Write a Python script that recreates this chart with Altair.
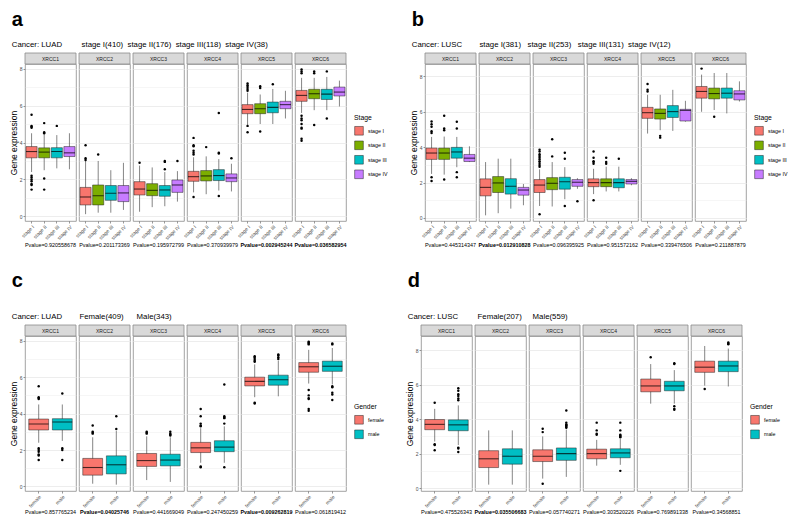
import altair as alt
import pandas as pd

GENES = ["XRCC1", "XRCC2", "XRCC3", "XRCC4", "XRCC5", "XRCC6"]
STAGES = ["stage I", "stage II", "stage III", "stage IV"]
GENDERS = ["female", "male"]
STAGE_COLORS = ["#F8766D", "#7CAE00", "#00BFC4", "#C77CFF"]
GENDER_COLORS = ["#F8766D", "#00BFC4"]

# box statistics per gene, per group: [lower whisker, Q1, median, Q3, upper whisker]
# outliers per gene, per group
A_BOX = [
    [[2.4, 3.17, 3.51, 3.78, 4.5], [2.5, 3.17, 3.48, 3.71, 4.45], [2.6, 3.17, 3.51, 3.72, 4.4], [2.55, 3.24, 3.44, 3.78, 4.5]],
    [[0.12, 0.62, 1.05, 1.57, 3.0], [0.2, 0.62, 1.12, 1.70, 3.0], [0.2, 0.87, 1.25, 1.67, 2.5], [0.35, 0.80, 1.27, 1.67, 2.9]],
    [[0.25, 1.16, 1.48, 1.88, 2.75], [0.5, 1.12, 1.41, 1.77, 2.65], [0.55, 1.09, 1.43, 1.67, 2.4], [0.8, 1.30, 1.70, 1.97, 2.45]],
    [[1.3, 1.90, 2.15, 2.44, 3.2], [1.2, 1.92, 2.19, 2.48, 3.25], [1.4, 1.94, 2.21, 2.53, 3.1], [1.35, 1.88, 2.08, 2.30, 2.85]],
    [[4.95, 5.56, 5.79, 6.05, 6.7], [5.0, 5.56, 5.83, 6.10, 6.6], [5.0, 5.61, 5.90, 6.19, 6.9], [5.3, 5.83, 6.05, 6.23, 6.8]],
    [[5.6, 6.23, 6.55, 6.82, 7.5], [5.75, 6.37, 6.64, 6.88, 7.5], [5.75, 6.33, 6.62, 6.88, 7.55], [5.95, 6.52, 6.73, 7.0, 7.35]],
]
A_OUT = [
    [[5.5, 4.9, 4.85, 4.8, 2.2, 2.1, 2.0, 1.9, 1.75, 1.7, 1.45], [5.05, 4.55, 4.5, 2.05, 1.45], [4.9], []],
    [[3.85, 3.15, 3.05], [3.35], [], []],
    [[2.9], [], [3.0, 2.95, 2.55], [3.0]],
    [[4.25, 3.85, 3.8, 3.55, 3.45, 3.35, 1.05], [3.75], [5.6, 3.45, 3.4, 1.1], [3.15]],
    [[7.2, 7.1, 7.0, 6.9, 6.8, 4.9, 4.55], [7.05, 6.95, 4.6], [7.15], []],
    [[7.95, 7.85, 7.75, 5.45, 5.3, 5.2, 5.0, 4.8, 4.75, 4.2, 4.1], [7.85, 7.75, 4.95], [7.85, 5.3], []],
]
B_BOX = [
    [[2.49, 3.31, 3.67, 3.95, 4.58], [2.45, 3.31, 3.67, 3.95, 4.6], [2.87, 3.38, 3.73, 3.99, 4.58], [3.16, 3.19, 3.38, 3.59, 4.05]],
    [[0.15, 1.25, 1.73, 2.21, 3.16], [0.27, 1.44, 1.98, 2.34, 3.35], [0.53, 1.35, 1.79, 2.22, 3.35], [0.72, 1.29, 1.58, 1.73, 1.92]],
    [[0.68, 1.44, 1.86, 2.17, 2.75], [0.65, 1.60, 1.96, 2.28, 3.16], [1.06, 1.63, 2.05, 2.30, 2.87], [1.65, 1.79, 2.02, 2.17, 2.25]],
    [[1.35, 1.77, 2.0, 2.21, 2.78], [1.5, 1.77, 2.0, 2.21, 2.9], [1.5, 1.71, 2.0, 2.21, 2.9], [1.85, 1.92, 2.07, 2.17, 2.25]],
    [[4.77, 5.63, 5.95, 6.25, 6.96], [4.96, 5.59, 5.91, 6.16, 6.96], [4.92, 5.68, 6.01, 6.35, 7.24], [5.44, 5.48, 6.08, 6.14, 6.62]],
    [[6.0, 6.77, 7.15, 7.43, 8.1], [6.1, 6.73, 7.03, 7.34, 8.19], [5.91, 6.77, 7.05, 7.34, 8.19], [6.58, 6.67, 7.01, 7.19, 7.72]],
]
B_OUT = [
    [[5.45, 5.3, 5.15, 4.9, 4.8, 2.3, 2.09], [5.78, 5.06, 4.96, 2.17], [5.44, 5.06, 2.59, 2.3], []],
    [[], [], [], []],
    [[3.85, 3.75, 3.6, 3.5, 3.4, 3.3, 3.2, 3.1, 3.0, 2.9, 0.21], [4.45, 3.48], [3.69, 3.35, 0.68], [0.95]],
    [[3.76, 3.4, 3.21, 3.16, 3.06, 1.0], [3.4, 3.16, 3.06], [3.35], []],
    [[7.57, 7.24, 7.15], [4.64, 4.54], [], []],
    [[8.44], [5.72], [], []],
]
C_BOX = [
    [[2.4, 3.10, 3.43, 3.70, 4.5], [2.5, 3.10, 3.54, 3.72, 4.5]],
    [[0.15, 0.62, 1.04, 1.54, 2.7], [0.1, 0.69, 1.19, 1.68, 3.05]],
    [[0.35, 1.10, 1.42, 1.81, 2.75], [0.25, 1.13, 1.45, 1.77, 2.7]],
    [[1.3, 1.86, 2.12, 2.42, 3.2], [1.3, 1.91, 2.16, 2.51, 3.3]],
    [[4.9, 5.52, 5.77, 6.0, 6.7], [4.95, 5.56, 5.86, 6.11, 6.9]],
    [[5.65, 6.27, 6.57, 6.8, 7.5], [5.6, 6.32, 6.6, 6.88, 7.6]],
]
C_OUT = [
    [[5.5, 4.9, 4.85, 4.8, 2.1, 2.0, 1.9, 1.75, 1.7, 1.45], [5.1, 2.1, 2.0, 1.45]],
    [[3.35, 3.0, 2.95, 2.9], [3.85, 3.15]],
    [[3.0, 2.95, 2.9], [3.0, 2.9, 2.85, 2.8]],
    [[4.25, 3.85, 3.45, 3.35, 3.3, 1.1, 1.05], [5.6, 3.85, 3.8, 3.75, 3.45, 1.05]],
    [[7.15, 7.1, 7.0, 6.9, 6.85, 4.6, 4.55], [7.25, 7.2, 7.1, 7.0]],
    [[7.95, 7.9, 7.85, 7.8, 5.3, 5.0, 4.85, 4.8, 4.25, 4.15], [7.85, 7.8, 5.5, 5.45, 5.15, 5.05, 4.75]],
]
D_BOX = [
    [[2.7, 3.39, 3.70, 3.98, 4.6], [2.5, 3.33, 3.67, 3.96, 4.8]],
    [[0.2, 1.19, 1.70, 2.17, 3.35], [0.2, 1.39, 1.85, 2.28, 3.35]],
    [[0.55, 1.54, 1.85, 2.22, 3.0], [0.65, 1.61, 2.0, 2.33, 3.4]],
    [[1.3, 1.70, 2.0, 2.26, 2.8], [1.35, 1.76, 2.04, 2.28, 2.85]],
    [[4.9, 5.59, 5.93, 6.33, 7.2], [4.9, 5.65, 5.93, 6.2, 6.85]],
    [[5.95, 6.72, 7.02, 7.37, 8.25], [5.9, 6.76, 7.09, 7.37, 8.1]],
]
D_OUT = [
    [[4.95, 2.55, 2.5, 2.2], [5.8, 5.65, 5.45, 5.35, 5.2, 5.1, 2.35, 2.3, 2.1]],
    [[], []],
    [[3.45, 3.25, 0.25], [4.5, 3.8, 3.7, 3.65, 3.6, 3.55, 3.5]],
    [[3.8, 3.35, 3.15, 3.1], [3.8, 3.35, 3.1, 3.05, 3.0, 2.95, 1.0]],
    [[7.6], [7.25, 7.2, 4.75, 4.6, 4.55]],
    [[5.75], [8.45, 8.4, 8.35]],
]

A_PVAL = ["0.920558678", "0.201173369", "0.195972799", "0.370939979", "0.002945244", "0.036582954"]
B_PVAL = ["0.445314347", "0.012910828", "0.096395925", "0.951572162", "0.339476506", "0.211887879"]
C_PVAL = ["0.857765234", "0.04025746", "0.441669049", "0.247450259", "0.009262819", "0.061819412"]
D_PVAL = ["0.475526343", "0.035506683", "0.057740271", "0.303520226", "0.769891338", "0.34568851"]

NB = "\u00a0"
A_SUB = NB * 2 + "Cancer: LUAD" + NB * 9 + "stage I(410)" + NB * 2 + "stage II(176)" + NB * 2 + "stage III(118)" + NB * 2 + "stage IV(38)"
B_SUB = NB * 2 + "Cancer: LUSC" + NB * 8 + "stage I(381)" + NB * 3 + "stage II(253)" + NB * 3 + "stage III(131)" + NB * 2 + "stage IV(12)"
C_SUB = NB * 2 + "Cancer: LUAD" + NB * 8 + "Female(409)" + NB * 6 + "Male(343)"
D_SUB = NB * 2 + "Cancer: LUSC" + NB * 9 + "Female(207)" + NB * 5 + "Male(559)"

FONT = "Liberation Sans"
W = 51
SP = 3
STRIP = 11

MINOR = "datum.value % 2 === 1"


def y_axis(first):
    if first:
        return alt.Axis(title="Gene expression", titleFontSize=8.5, titleFontWeight="normal",
                        titleColor="black", titlePadding=1, titleFont=FONT,
                        values=list(range(9)),
                        labelExpr="datum.value % 2 === 0 ? datum.label : ''",
                        labelFontSize=5, labelColor="#4d4d4d", labelPadding=1, labelFont=FONT,
                        labelOverlap=False,
                        tickSize=2, tickColor="#333333", tickWidth=0.5,
                        tickOpacity={"condition": {"test": MINOR, "value": 0}, "value": 1},
                        gridColor="#ebebeb",
                        gridWidth={"condition": {"test": MINOR, "value": 0.45}, "value": 0.9},
                        domain=False)
    return alt.Axis(title=None, labels=False, ticks=False, domain=False,
                    values=list(range(9)), gridColor="#ebebeb", labelOverlap=False,
                    gridWidth={"condition": {"test": MINOR, "value": 0.45}, "value": 0.9})


def facet(box, out, gi, groups, colors, legend_title, pval, first, ydom, h, pi, po, legend_y):
    gene = GENES[gi]
    step = W / (len(groups) - pi + 2 * po)
    band = step * (1 - pi)
    rows = []
    for k, grp in enumerate(groups):
        lo, q1, md, q3, hi = box[gi][k]
        rows.append({"group": grp, "lo": lo, "q1": q1, "med": md, "q3": q3, "hi": hi})
    bdf = pd.DataFrame(rows)
    orows = [{"group": grp, "value": v} for k, grp in enumerate(groups) for v in out[gi][k]]
    odf = pd.DataFrame(orows, columns=["group", "value"])
    sdf = pd.DataFrame({"gene": [gene]})

    xaxis = alt.Axis(labelAngle=-45, labelFontSize=5, labelColor="#4d4d4d", labelPadding=1,
                     tickSize=2, tickColor="#333333", tickWidth=0.5, domain=False,
                     gridColor="#ebebeb", gridWidth=0.9, labelFont=FONT)
    yax = y_axis(first)

    xs = alt.X("group:N", sort=groups, title=None,
               scale=alt.Scale(domain=groups, paddingInner=pi, paddingOuter=po), axis=xaxis)
    ys = alt.Scale(domain=ydom, nice=False, zero=False)

    whisk = alt.Chart(bdf).mark_rule(color="#333333", strokeWidth=0.6).encode(
        x=xs, y=alt.Y("lo:Q", scale=ys, axis=yax), y2="hi:Q")
    boxes = alt.Chart(bdf).mark_bar(stroke="#222222", strokeWidth=0.5, opacity=1).encode(
        x=xs, y=alt.Y("q1:Q", scale=ys, axis=yax), y2="q3:Q",
        color=alt.Color("group:N", sort=groups,
                        scale=alt.Scale(domain=groups, range=colors),
                        legend=alt.Legend(title=legend_title, orient="none",
                                          legendX=6 * W + 5 * SP + 8, legendY=legend_y,
                                          titleFontSize=6.8, titleFontWeight="normal", titleColor="black",
                                          titleFont=FONT, labelFont=FONT,
                                          labelFontSize=5.3, labelColor="black",
                                          symbolType="square", symbolSize=75,
                                          symbolStrokeColor="#222222", symbolStrokeWidth=0.5,
                                          symbolOpacity=1, rowPadding=2.5, titlePadding=4)))
    med = alt.Chart(bdf).mark_tick(color="black", thickness=1.1, size=band).encode(
        x=xs, y=alt.Y("med:Q", scale=ys, axis=yax))
    pts = alt.Chart(odf).mark_circle(color="black", size=6, opacity=1).encode(
        x=xs, y=alt.Y("value:Q", scale=ys, axis=yax))
    strip = alt.Chart(sdf).mark_rect(fill="#d9d9d9", stroke="#8c8c8c", strokeWidth=0.8).encode(
        x=alt.value(0), x2=alt.value(W), y=alt.value(-STRIP), y2=alt.value(0))
    stext = alt.Chart(sdf).mark_text(fontSize=5, color="#1a1a1a", font=FONT, baseline="middle").encode(
        text="gene:N", x=alt.value(W / 2), y=alt.value(-STRIP / 2))

    bold = float(pval) < 0.05
    return alt.layer(whisk, boxes, med, pts, strip, stext).properties(
        width=W, height=h,
        title=alt.TitleParams(text="Pvalue=" + pval, orient="bottom", fontSize=5.4,
                              fontWeight="bold" if bold else "normal", color="black",
                              font=FONT, offset=2, anchor="middle"))


def panel(letter, sub, box, out, groups, colors, legend_title, pvals, ydom, h, pi, po, legend_y, sub_pad):
    charts = [facet(box, out, i, groups, colors, legend_title, pvals[i], i == 0, ydom, h, pi, po, legend_y)
              for i in range(6)]
    return alt.hconcat(*charts, spacing=SP, bounds="flush").properties(
        title=alt.TitleParams(text=letter, subtitle=sub, anchor="start", frame="bounds", dx=3,
                              fontSize=20, fontWeight="bold", color="black", font=FONT,
                              subtitleFont=FONT, subtitleFontSize=7.8, subtitleColor="black",
                              subtitlePadding=sub_pad, offset=3)
    ).resolve_scale(color="shared")


H1 = 157
H2 = 155
pa = panel("a", A_SUB, A_BOX, A_OUT, STAGES, STAGE_COLORS, "Stage", A_PVAL, [-0.25, 8.25], H1, 0.12, 0.08, 51, 11)
pb = panel("b", B_SUB, B_BOX, B_OUT, STAGES, STAGE_COLORS, "Stage", B_PVAL, [-0.17, 8.7], H1, 0.12, 0.08, 51, 11)
pc = panel("c", C_SUB, C_BOX, C_OUT, GENDERS, GENDER_COLORS, "Gender", C_PVAL, [-0.25, 8.26], H2, 0.16, 0.16, 68, 22)
pd_ = panel("d", D_SUB, D_BOX, D_OUT, GENDERS, GENDER_COLORS, "Gender", D_PVAL, [-0.17, 8.83], H2, 0.16, 0.16, 68, 22)

row1 = alt.hconcat(pa, pb, spacing=20).resolve_scale(color="independent")
row2 = alt.hconcat(pc, pd_, spacing=20).resolve_scale(color="independent")

chart = alt.vconcat(row1, row2, spacing=22).resolve_scale(color="independent").properties(
    padding={"left": 0, "top": 2, "right": 0, "bottom": 0}
).configure(background="white", font=FONT).configure_axis(
    labelOverlap=False
).configure_view(
    stroke="#8c8c8c", strokeWidth=0.8
)

chart.save("out.html", embed_options={"renderer": "svg", "actions": False})
